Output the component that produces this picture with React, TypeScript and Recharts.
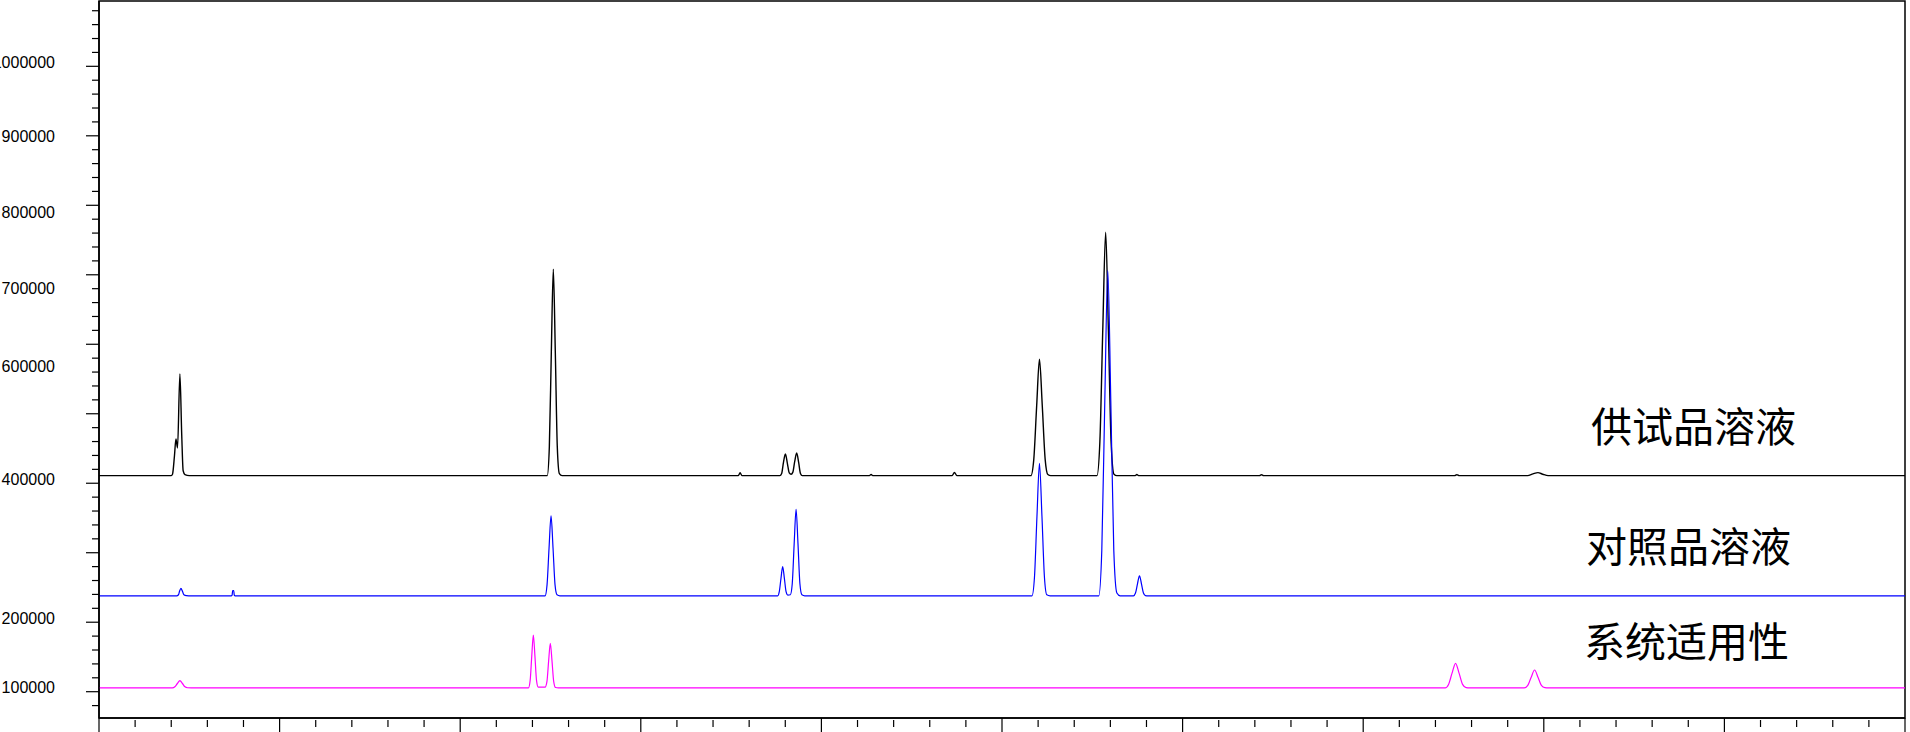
import React from "react";
import { LineChart, Line, XAxis, YAxis, ReferenceArea } from "recharts";

// retention time (min), detector response
const sampleTrace: [number, number][] = [
  [0, 411000],
  [2.0, 411000], [2.035, 413000], [2.09, 440000], [2.13, 463700], [2.174, 450700], [2.24, 557200], [2.29, 470000], [2.33, 418000], [2.38, 412500], [2.5, 411000],
  [12.41, 411000], [12.468, 452600], [12.523, 589100], [12.578, 707900], [12.633, 589100], [12.688, 452600], [12.745, 414000], [12.82, 411000],
  [17.7, 411000], [17.749, 415000], [17.8, 411000],
  [18.85, 411000], [18.9, 414000], [18.95, 430000], [19.003, 442100], [19.06, 428000], [19.11, 415000], [19.161, 413000], [19.21, 416000], [19.26, 431000], [19.316, 443500], [19.37, 430000], [19.42, 414000], [19.47, 411000],
  [21.33, 411000], [21.376, 412500], [21.42, 411000],
  [23.62, 411000], [23.683, 415500], [23.75, 411000],
  [25.8, 411000], [25.88, 434400], [25.96, 511400], [26.037, 578400], [26.115, 511400], [26.195, 434400], [26.27, 412500], [26.35, 411000],
  [27.63, 411000], [27.71, 460000], [27.79, 621100], [27.87, 761100], [27.945, 621100], [28.02, 460000], [28.1, 413000], [28.18, 411000],
  [28.69, 411000], [28.732, 412500], [28.78, 411000],
  [32.13, 411000], [32.185, 412300], [32.24, 411000],
  [37.53, 411000], [37.593, 412300], [37.66, 411000],
  [39.55, 411000], [39.7, 413500], [39.837, 415300], [39.97, 413000], [40.12, 411000],
  [50, 411000],
];

const referenceTrace: [number, number][] = [
  [0, 238000],
  [2.15, 238000], [2.2, 239500], [2.23, 244500], [2.268, 248700], [2.31, 244500], [2.35, 239500], [2.42, 238300], [2.55, 238000],
  [3.66, 238000], [3.685, 239000], [3.7, 245500], [3.73, 245500], [3.745, 239000], [3.77, 238000],
  [12.35, 238000], [12.405, 254100], [12.46, 306900], [12.515, 352900], [12.57, 306900], [12.625, 254100], [12.68, 239500], [12.76, 238000],
  [18.79, 238000], [18.834, 243900], [18.881, 263100], [18.928, 279900], [18.975, 263100], [19.022, 243900], [19.07, 239000],
  [19.14, 239500], [19.193, 255400], [19.246, 312700], [19.299, 362500], [19.352, 312700], [19.405, 255400], [19.46, 239500], [19.54, 238000],
  [25.83, 238000], [25.899, 264700], [25.968, 352400], [26.037, 428700], [26.106, 352400], [26.175, 264700], [26.24, 239500], [26.33, 238000],
  [27.68, 238000], [27.763, 303500], [27.846, 518700], [27.929, 705900], [28.012, 518700], [28.095, 303500], [28.18, 242000], [28.27, 238000],
  [28.64, 238000], [28.696, 242000], [28.751, 255300], [28.806, 266900], [28.861, 255300], [28.916, 242000], [28.97, 238300], [29.05, 238000],
  [50, 238000],
];

const suitabilityTrace: [number, number][] = [
  [0, 105500],
  [2.03, 105500], [2.1, 107000], [2.17, 111800], [2.24, 116000], [2.31, 111800], [2.38, 107000], [2.45, 105700], [2.55, 105500],
  [11.89, 105500], [11.937, 116200], [11.981, 151200], [12.025, 181600], [12.069, 151200], [12.113, 116200], [12.16, 106500],
  [12.24, 106500], [12.35, 106500], [12.401, 114500], [12.448, 144000], [12.495, 169700], [12.542, 144000], [12.589, 114500], [12.64, 106000], [12.72, 105500],
  [37.27, 105500], [37.363, 110500], [37.46, 126700], [37.557, 140900], [37.654, 126700], [37.751, 110500], [37.85, 105800], [37.95, 105500],
  [39.46, 105500], [39.557, 109100], [39.651, 120900], [39.745, 131200], [39.839, 120900], [39.933, 109100], [40.03, 105800], [40.13, 105500],
  [50, 105500],
];

const traceNames = ["供试品溶液", "对照品溶液", "系统适用性"];
const yLabelValues = [100000, 200000, 400000, 600000, 700000, 800000, 900000, 1000000];

const X_DOMAIN: [number, number] = [0, 50];
const Y_DOMAIN: [number, number] = [62150, 1094000];
const xTicks = Array.from({ length: 51 }, (_, i) => i);
const yTicks = Array.from({ length: 51 }, (_, i) => 80000 + i * 20000);

const toRows = (pts: [number, number][]) => pts.map(([t, v]) => ({ t, v }));

// the labels in the original drift off their ticks a little
const labelNudge: Record<number, number> = {
  1000000: -4, 900000: 0.5, 800000: 7.5, 700000: 14, 600000: 22,
  400000: -4, 200000: -4, 100000: -4,
};

function YTick(props: any) {
  const { x, y, payload } = props;
  const v = payload.value;
  const major = v % 100000 === 0;
  const showLabel = yLabelValues.includes(v);
  return (
    <g>
      <line x1={x - (major ? 13 : 7)} x2={x} y1={y} y2={y} stroke="#000" strokeWidth={1.2} />
      {showLabel && (
        <text
          x={x - 44}
          y={y + (labelNudge[v] ?? -4)}
          textAnchor="end"
          dominantBaseline="central"
          fontSize={16}
          fontFamily="'Liberation Sans', Arial, sans-serif"
          fill="#000"
        >
          {v}
        </text>
      )}
    </g>
  );
}

function XTick(props: any) {
  const { x, y, payload } = props;
  const major = payload.value % 5 === 0;
  return (
    <line
      x1={x}
      x2={x}
      y1={major ? y : y + 2}
      y2={major ? y + 16 : y + 9}
      stroke="#000"
      strokeWidth={1.2}
    />
  );
}

const labelPos = [
  { x: 1591, y: 442 },
  { x: 1586, y: 562 },
  { x: 1584, y: 657 },
];

export default function App() {
  return (
    <div style={{ position: "absolute", left: 0, top: 0, width: 1910, height: 732, background: "#fff" }}>
      <LineChart width={1910} height={732} margin={{ top: 1, right: 5, bottom: 0, left: 0 }}>
        <XAxis
          type="number"
          dataKey="t"
          domain={X_DOMAIN}
          ticks={xTicks}
          interval={0}
          height={14}
          tickSize={0}
          tickMargin={0}
          tickLine={false}
          axisLine={{ stroke: "#000", strokeWidth: 1.5 }}
          tick={<XTick />}
          allowDataOverflow
        />
        <YAxis
          type="number"
          domain={Y_DOMAIN}
          ticks={yTicks}
          interval={0}
          width={99}
          tickSize={0}
          tickMargin={0}
          tickLine={false}
          axisLine={{ stroke: "#000", strokeWidth: 1.5 }}
          tick={<YTick />}
          allowDataOverflow
        />
        <ReferenceArea
          x1={X_DOMAIN[0]}
          x2={X_DOMAIN[1]}
          y1={Y_DOMAIN[0]}
          y2={Y_DOMAIN[1]}
          fill="none"
          stroke="#000"
          strokeWidth={1.5}
        />
        <Line data={toRows(sampleTrace)} dataKey="v" name={traceNames[0]} type="monotone" stroke="#000000" strokeWidth={1.4} dot={false} activeDot={false} isAnimationActive={false} />
        <Line data={toRows(referenceTrace)} dataKey="v" name={traceNames[1]} type="monotone" stroke="#0000ff" strokeWidth={1.2} dot={false} activeDot={false} isAnimationActive={false} />
        <Line data={toRows(suitabilityTrace)} dataKey="v" name={traceNames[2]} type="monotone" stroke="#ff00ff" strokeWidth={1.2} dot={false} activeDot={false} isAnimationActive={false} />
      </LineChart>
      <svg width={1910} height={732} style={{ position: "absolute", left: 0, top: 0, pointerEvents: "none" }}>
        {traceNames.map((name, i) => (
          <text
            key={name}
            x={labelPos[i].x}
            y={labelPos[i].y}
            fontSize={41}
            fontFamily="'Noto Sans CJK SC', sans-serif"
            fill="#000"
          >
            {name}
          </text>
        ))}
      </svg>
    </div>
  );
}
